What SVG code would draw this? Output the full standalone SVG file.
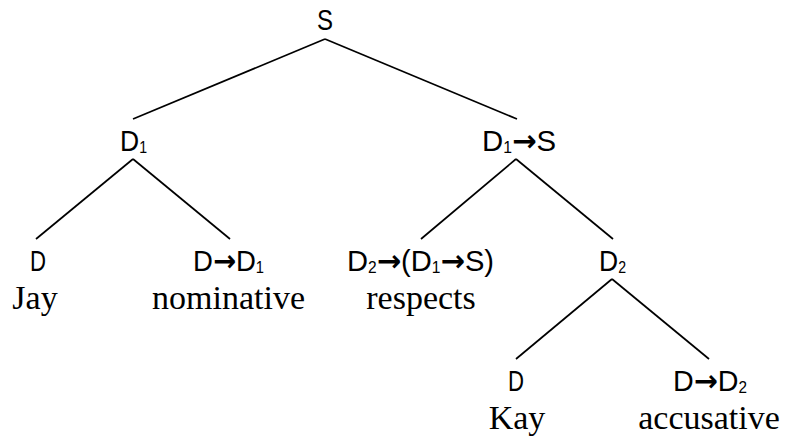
<svg xmlns="http://www.w3.org/2000/svg" width="785" height="438" viewBox="0 0 785 438">
<style>
.cat{font-family:"Liberation Sans","DejaVu Sans",sans-serif;font-size:30px;fill:#000;}
.sub{font-size:16px;}
.arr{font-family:"DejaVu Sans",sans-serif;font-weight:bold;}
.word{font-family:"Liberation Serif","DejaVu Serif",serif;font-size:34px;fill:#000;text-anchor:middle;}
.edge{stroke:#000;stroke-width:1.7;fill:none;stroke-linecap:butt;}
</style>
<rect width="785" height="438" fill="#fff"/>
<g id="connectors">
<line class="edge" x1="325" y1="39" x2="133" y2="119"/>
<line class="edge" x1="325" y1="39" x2="517" y2="119"/>
<line class="edge" x1="133" y1="159" x2="36" y2="239"/>
<line class="edge" x1="133" y1="159" x2="230" y2="239"/>
<line class="edge" x1="516" y1="159" x2="421" y2="239"/>
<line class="edge" x1="516" y1="159" x2="613" y2="239"/>
<line class="edge" x1="612" y1="279" x2="516" y2="359"/>
<line class="edge" x1="612" y1="279" x2="709" y2="359"/>
</g>
<g id="node-S">
<text class="cat" x="325" y="30" text-anchor="middle" textLength="16" lengthAdjust="spacingAndGlyphs">S</text>
</g>
<g id="node-D1">
<text class="cat" x="120" y="151" textLength="27" lengthAdjust="spacingAndGlyphs">D<tspan class="sub" dy="2">1</tspan></text>
</g>
<g id="node-D1S">
<text class="cat" x="482" y="151" textLength="74" lengthAdjust="spacingAndGlyphs">D<tspan class="sub" dy="2">1</tspan><tspan class="arr" dy="-2">→</tspan>S</text>
</g>
<g id="node-Jay">
<text class="cat" x="30" y="271" textLength="16" lengthAdjust="spacingAndGlyphs">D</text>
<text class="word" x="35" y="309">Jay</text>
</g>
<g id="node-nominative">
<text class="cat" x="193" y="271" textLength="71" lengthAdjust="spacingAndGlyphs">D<tspan class="arr">→</tspan>D<tspan class="sub" dy="2">1</tspan></text>
<text class="word" x="228.5" y="309">nominative</text>
</g>
<g id="node-respects">
<text class="cat" x="347" y="271" textLength="147" lengthAdjust="spacingAndGlyphs">D<tspan class="sub" dy="2">2</tspan><tspan class="arr" dy="-2">→</tspan>(D<tspan class="sub" dy="2">1</tspan><tspan class="arr" dy="-2">→</tspan>S)</text>
<text class="word" x="421" y="309">respects</text>
</g>
<g id="node-D2">
<text class="cat" x="599" y="271" textLength="27" lengthAdjust="spacingAndGlyphs">D<tspan class="sub" dy="2">2</tspan></text>
</g>
<g id="node-Kay">
<text class="cat" x="508" y="391" textLength="16" lengthAdjust="spacingAndGlyphs">D</text>
<text class="word" x="517" y="429">Kay</text>
</g>
<g id="node-accusative">
<text class="cat" x="673" y="391" textLength="74" lengthAdjust="spacingAndGlyphs">D<tspan class="arr">→</tspan>D<tspan class="sub" dy="2">2</tspan></text>
<text class="word" x="709" y="429">accusative</text>
</g>
</svg>
